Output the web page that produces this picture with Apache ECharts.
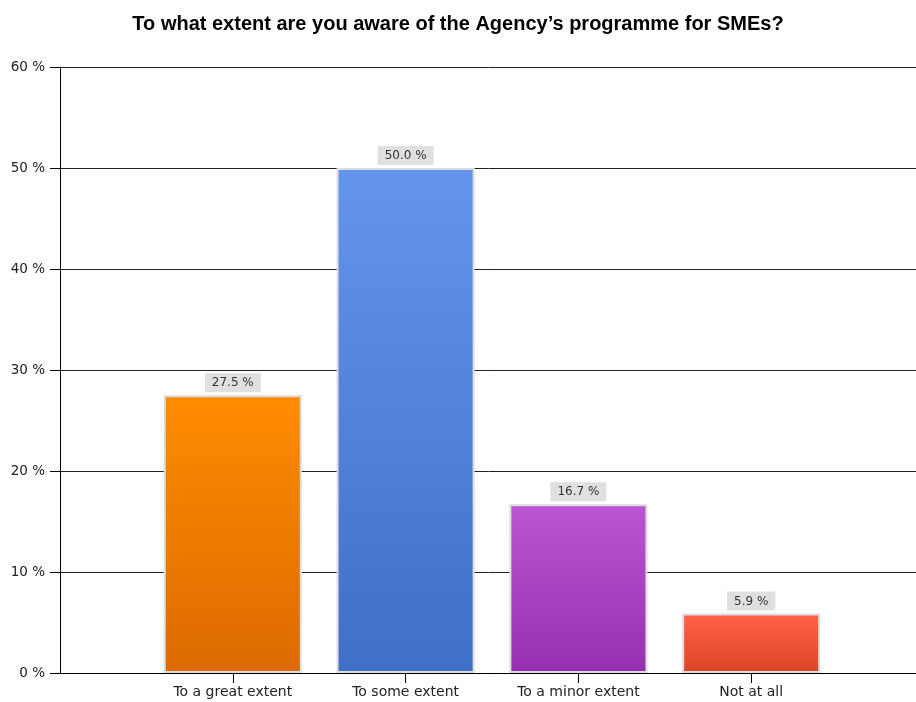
<!DOCTYPE html>
<html>
<head>
<meta charset="utf-8">
<script src="https://cdn.jsdelivr.net/npm/echarts@6/dist/echarts.min.js"></script>
<style>
  html, body { margin: 0; padding: 0; background: #fff; }
  #chart { width: 916px; height: 702px; }
</style>
</head>
<body>
<div id="chart"></div>
<script>
// Survey answers (share of respondents, %)
const categories = ['To a great extent', 'To some extent', 'To a minor extent', 'Not at all'];
const shares = [27.5, 50.0, 16.7, 5.9];
const yTicks = [0, 10, 20, 30, 40, 50, 60];

// top / bottom gradient stops for each bar
const topColors = ['#ff8c00', '#6495ed', '#ba55d3', '#ff6347'];
const bottomColors = ['#dc6a00', '#3f6fc6', '#9530b2', '#dc4428'];

// pad the axis with an empty slot at each end so bars sit on inner ticks
const axisCats = [''].concat(categories, ['']);
const barData = [null].concat(shares.map((v, i) => ({
  value: v,
  itemStyle: {
    color: new echarts.graphic.LinearGradient(0, 0, 0, 1, [
      { offset: 0, color: topColors[i] },
      { offset: 1, color: bottomColors[i] }
    ])
  }
})), [null]);

const labelFont = 'DejaVu Sans';

const chart = echarts.init(document.getElementById('chart'));
chart.setOption({
  animation: false,
  title: {
    text: 'To what extent are you aware of the Agency\u2019s programme for SMEs?',
    left: 'center',
    top: 9,
    textStyle: { fontFamily: 'Liberation Sans, Arial', fontSize: 20, fontWeight: 'bold', color: '#000' }
  },
  // plot runs a little past the right edge of the canvas
  grid: {
    left: 60, width: 864, top: 67, bottom: 29,
    containLabel: false,
    outerBoundsMode: 'none'
  },
  xAxis: {
    type: 'category',
    data: axisCats,
    boundaryGap: false,
    axisLine: { lineStyle: { color: '#000', width: 1 } },
    axisTick: {
      length: 10,
      lineStyle: { color: '#000' },
      interval: (idx) => idx > 0 && idx < axisCats.length - 1
    },
    axisLabel: {
      interval: 0,
      margin: 12,
      fontFamily: labelFont,
      fontSize: 14,
      color: '#222'
    },
    splitLine: { show: false }
  },
  yAxis: {
    type: 'value',
    min: yTicks[0],
    max: yTicks[yTicks.length - 1],
    interval: 10,
    axisLine: { show: true, lineStyle: { color: '#000', width: 1 } },
    axisTick: { show: true, length: 10, lineStyle: { color: '#000' } },
    axisLabel: {
      margin: 15,
      fontFamily: labelFont,
      fontSize: 13.5,
      color: '#222',
      formatter: (v) => v + ' %'
    },
    splitLine: { show: true, lineStyle: { color: '#222', width: 1 } }
  },
  series: [{
    type: 'bar',
    data: barData,
    barWidth: 138,
    itemStyle: { borderColor: '#dcdcdc', borderWidth: 2 },
    label: {
      show: true,
      position: 'top',
      distance: 3,
      backgroundColor: '#e0e0e0',
      padding: [4, 7, 3, 7],
      fontFamily: labelFont,
      fontSize: 12,
      color: '#333',
      formatter: (p) => p.value.toFixed(1) + ' %'
    }
  }]
});
</script>
</body>
</html>
